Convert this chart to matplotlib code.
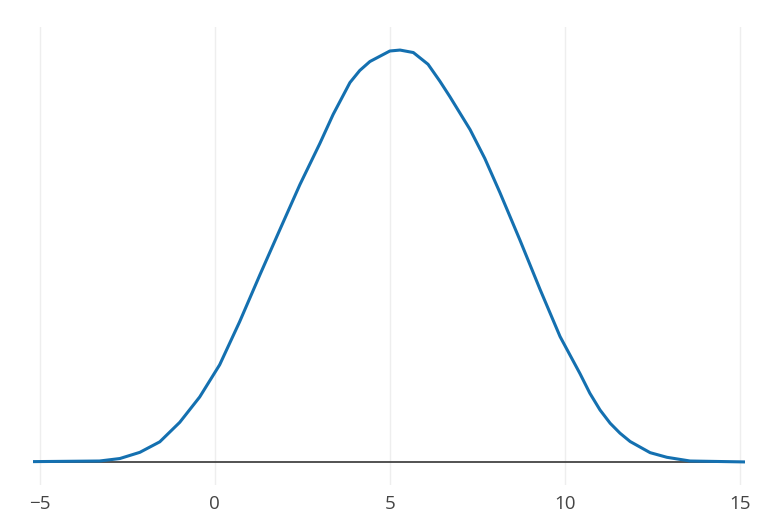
import matplotlib
matplotlib.use("Agg")
import matplotlib.pyplot as plt

# curve values (x, density)
x_vals = [-5.19, -3.29, -2.71, -2.14, -1.57, -1.00, -0.43, 0.14, 0.71, 1.29,
          1.86, 2.43, 3.00, 3.38, 3.86, 4.14, 4.43, 5.00, 5.29, 5.67,
          6.09, 6.43, 6.71, 7.29, 7.71, 8.14, 8.71, 9.29, 9.86, 10.14,
          10.43, 10.71, 11.00, 11.29, 11.57, 11.86, 12.43, 12.91, 13.57, 15.14]
y_vals = [0.0001, 0.0003, 0.0011, 0.0031, 0.0065, 0.0128, 0.0210, 0.0314, 0.0453, 0.0605,
          0.0751, 0.0896, 0.1029, 0.1123, 0.1226, 0.1265, 0.1294, 0.1328, 0.1331, 0.1323,
          0.1285, 0.1230, 0.1181, 0.1074, 0.0981, 0.0871, 0.0718, 0.0557, 0.0405, 0.0346,
          0.0285, 0.0222, 0.0168, 0.0125, 0.0093, 0.0066, 0.0030, 0.0015, 0.0003, 0.0000]
x_ticks = [-5, 0, 5, 10, 15]

line_color = "#1470b0"
grid_color = "#eeeeee"
text_color = "#444444"

plt.rcParams["font.family"] = ["Open Sans", "DejaVu Sans"]

fig = plt.figure(figsize=(7.8, 5.2), dpi=100)
ax = fig.add_axes([33 / 780, 1 - 485 / 520, 712 / 780, 458 / 520])

ax.plot(x_vals, y_vals, color=line_color, linewidth=2.2,
        solid_joinstyle="round", solid_capstyle="butt", zorder=3)
ax.axhline(0, color=text_color, linewidth=1.3, zorder=2)

ax.set_xlim(min(x_vals), max(x_vals))
pad = 0.056 * max(y_vals)
ax.set_ylim(-pad, max(y_vals) + pad)

ax.set_xticks(x_ticks)
ax.set_yticks([])
ax.grid(axis="x", color=grid_color, linewidth=1.0, zorder=0)
ax.tick_params(axis="x", length=0, pad=7, labelsize=13.5, labelcolor=text_color)
for s in ax.spines.values():
    s.set_visible(False)

fig.savefig("out.png", dpi=100)
